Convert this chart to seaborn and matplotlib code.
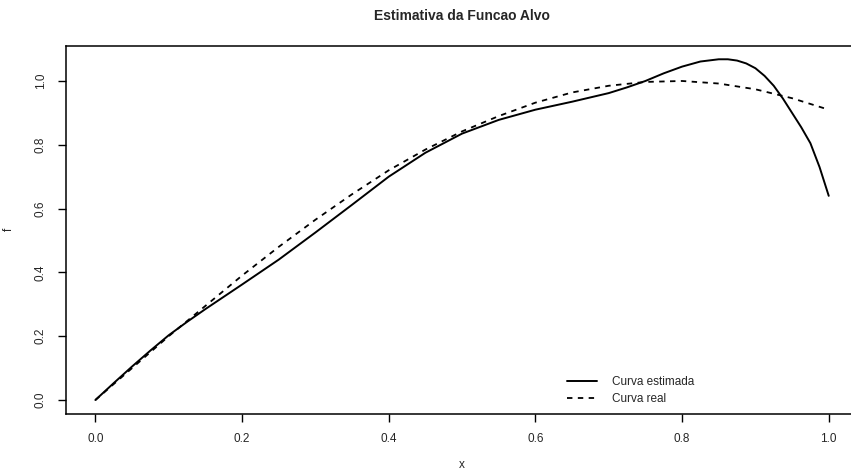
import numpy as np
import pandas as pd
import matplotlib
matplotlib.use("Agg")
import matplotlib.pyplot as plt
import seaborn as sns

# values
x_real = [0.0, 0.05, 0.1, 0.15, 0.2, 0.25, 0.3, 0.35, 0.4, 0.45, 0.5,
          0.55, 0.6, 0.65, 0.7, 0.75, 0.8, 0.85, 0.9, 0.95, 1.0]
f_real = [0.0, 0.10, 0.20, 0.295, 0.39, 0.48, 0.565, 0.645, 0.72, 0.785, 0.842,
          0.89, 0.932, 0.964, 0.985, 0.997, 1.0, 0.992, 0.974, 0.946, 0.91]

x_est = [0.0, 0.025, 0.05, 0.075, 0.1, 0.125, 0.15, 0.2, 0.25, 0.3, 0.35, 0.4,
         0.45, 0.5, 0.55, 0.6, 0.65, 0.7, 0.725, 0.75, 0.775, 0.8, 0.825,
         0.85, 0.8625, 0.875, 0.8875, 0.9, 0.9125, 0.925, 0.9375, 0.95,
         0.9625, 0.975, 0.9875, 1.0]
f_est = [0.0, 0.053, 0.105, 0.155, 0.203, 0.245, 0.285, 0.362, 0.44, 0.525, 0.612, 0.70,
         0.775, 0.835, 0.878, 0.91, 0.935, 0.962, 0.98, 1.0, 1.024, 1.045, 1.061,
         1.068, 1.068, 1.064, 1.055, 1.04, 1.016, 0.985, 0.945, 0.90,
         0.855, 0.805, 0.73, 0.64]

df_est = pd.DataFrame({"x": x_est, "f": f_est})
df_real = pd.DataFrame({"x": x_real, "f": f_real})

sns.set_style("white")
plt.rcParams["font.family"] = ["Liberation Sans", "DejaVu Sans"]

fig = plt.figure(figsize=(8.51, 4.74), dpi=100)
ax = fig.add_axes([0.0776, 0.1276, 0.9307, 0.7754])

sns.lineplot(data=df_est, x="x", y="f", ax=ax, color="black", lw=1.4,
             label="Curva estimada", sort=False)
sns.lineplot(data=df_real, x="x", y="f", ax=ax, color="black", lw=1.3,
             linestyle=(0, (3, 3)), label="Curva real", sort=False)

ax.set_xlim(-0.04, 1.04)
ax.set_ylim(-0.0423, 1.1097)
ax.set_xticks([0.0, 0.2, 0.4, 0.6, 0.8, 1.0])
ax.set_yticks([0.0, 0.2, 0.4, 0.6, 0.8, 1.0])
ax.set_xticklabels(["0.0", "0.2", "0.4", "0.6", "0.8", "1.0"])
ax.set_yticklabels(["0.0", "0.2", "0.4", "0.6", "0.8", "1.0"], rotation=90, va="center")
ax.tick_params(direction="out", length=6, width=1, color="black", labelsize=8.5, pad=8,
               bottom=True, left=True)
for s in ax.spines.values():
    s.set_color("black")
    s.set_linewidth(1.1)

ax.set_xlabel("x", fontsize=8.5, labelpad=10)
ax.set_ylabel("f", fontsize=8.5, labelpad=14)
ax.set_title("Estimativa da Funcao Alvo", fontsize=10, fontweight="bold", pad=19)

ax.legend(loc="lower left", bbox_to_anchor=(567 / 851, 1 - 405 / 474),
          bbox_transform=fig.transFigure, frameon=False, fontsize=8.5,
          handlelength=2.5, handletextpad=1.3, labelspacing=0.43,
          borderaxespad=0, borderpad=0)

fig.savefig("out.png", dpi=100)
